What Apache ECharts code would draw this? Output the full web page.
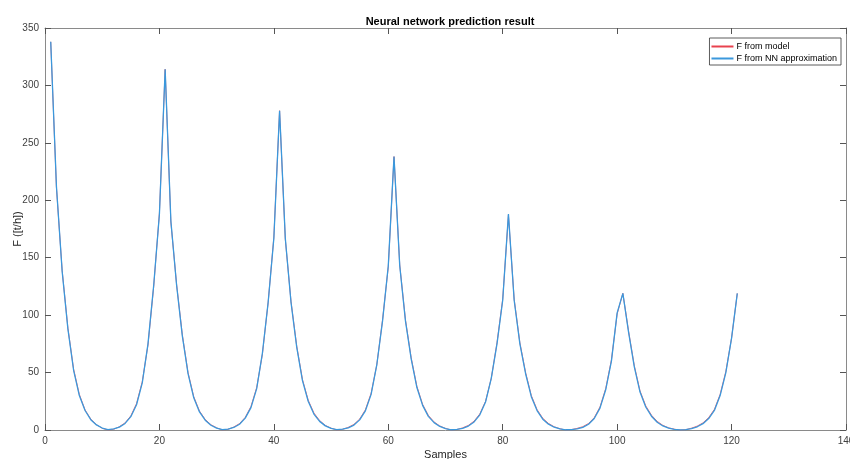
<!DOCTYPE html>
<html>
<head>
<meta charset="utf-8">
<script src="https://cdn.jsdelivr.net/npm/echarts@6/dist/echarts.min.js"></script>
<style>html,body{margin:0;padding:0;background:#fff;}#c{width:850px;height:459px;}</style>
</head>
<body>
<div id="c"></div>
<script>
var titleText = 'Neural network prediction result';
var xName = 'Samples';
var yName = 'F ([t/h])';
var seriesNames = ['F from model', 'F from NN approximation'];
var xTicks = [0, 20, 40, 60, 80, 100, 120, 140];
var yTicks = [0, 50, 100, 150, 200, 250, 300, 350];

var samples = [];
for (var i = 1; i <= 121; i++) samples.push(i);

var modelF = [
  338, 211, 139, 89, 53, 31, 17.5, 9.5, 4.6, 1.5, 0,
  0.6, 2.9, 6.2, 12.3, 23, 42, 74, 125, 189, 314,
  181, 127, 83, 50, 29, 16.5, 9.2, 4.6, 1.9, 0,
  0.6, 2.6, 5.6, 11, 20.5, 37, 66, 111, 168, 278,
  166, 112, 73, 44, 26, 14.8, 8.2, 4.0, 1.6, 0,
  0.5, 2.3, 4.9, 9.5, 17.6, 32, 57, 96, 142, 238,
  144, 96, 63, 38, 22.3, 12.7, 7.0, 3.5, 1.4, 0,
  0.4, 1.9, 4.0, 7.7, 14, 25, 45, 76, 114, 187,
  114, 76, 50, 30, 17.8, 10.2, 5.7, 2.8, 1.1, 0,
  0.3, 1.4, 2.9, 5.7, 10.8, 20, 36, 61, 101, 119,
  86, 56, 34, 21, 12.9, 7.5, 4.0, 1.9, 0.7, 0,
  0.3, 1.6, 3.4, 6.2, 10.8, 18, 31, 51, 80, 119
];

var nnF = [
  338, 212, 138, 88, 52, 30, 17, 9, 4.4, 1.7, 0.3,
  0.9, 2.5, 5.7, 11.6, 22, 41, 75, 126, 188, 314,
  182, 126, 82, 49, 28, 15.7, 8.5, 4.1, 1.6, 0.3,
  0.8, 2.2, 5.0, 10.3, 19.5, 36, 67, 111, 167, 278,
  167, 111, 72, 43, 25, 13.9, 7.5, 3.6, 1.4, 0.3,
  0.7, 1.9, 4.3, 8.8, 16.7, 31, 57, 95, 143, 238,
  143, 95, 62, 37, 21.4, 11.9, 6.4, 3.1, 1.2, 0.2,
  0.6, 1.5, 3.4, 7.0, 13.2, 24.4, 45, 75, 113, 188,
  113, 75, 49, 29, 16.9, 9.4, 5.1, 2.4, 0.9, 0.2,
  0.4, 1.0, 2.3, 5, 10, 19, 35, 60, 102, 119,
  85, 55, 33, 20, 12, 6.8, 3.5, 1.6, 0.6, 0.1,
  0.4, 1.2, 2.8, 5.5, 10, 17, 30, 50, 80, 119
];

function pairs(xs, ys) { return xs.map(function (x, k) { return [x, ys[k]]; }); }

var axisCol = '#8a8a8a';
var txtCol = '#404040';
var font = 'Liberation Sans, Arial, sans-serif';

function xAx(pos, show) {
  return {
    type: 'value', position: pos, min: xTicks[0], max: xTicks[xTicks.length - 1], interval: 20,
    name: show ? xName : '', nameLocation: 'middle', nameGap: 19, nameMoveOverlap: false,
    nameTextStyle: { color: '#262626', fontSize: 11, fontFamily: font },
    axisLine: { show: true, onZero: false, lineStyle: { color: axisCol, width: 1 } },
    axisTick: { show: true, inside: true, length: 6, lineStyle: { color: '#555' } },
    axisLabel: { show: show, color: txtCol, fontSize: 10, fontFamily: font, margin: 6 },
    splitLine: { show: false }
  };
}
function yAx(pos, show) {
  return {
    type: 'value', position: pos, min: yTicks[0], max: yTicks[yTicks.length - 1], interval: 50,
    name: show ? yName : '', nameLocation: 'middle', nameGap: 22, nameRotate: 90, nameMoveOverlap: false,
    nameTextStyle: { color: '#262626', fontSize: 11, fontFamily: font },
    axisLine: { show: true, onZero: false, lineStyle: { color: axisCol, width: 1 } },
    axisTick: { show: true, inside: true, length: 6, lineStyle: { color: '#555' } },
    axisLabel: { show: show, color: txtCol, fontSize: 10, fontFamily: font, margin: 6 },
    splitLine: { show: false }
  };
}

var chart = echarts.init(document.getElementById('c'), null, { renderer: 'canvas' });
chart.setOption({
  animation: false,
  backgroundColor: '#fff',
  title: {
    text: titleText, left: 445, top: 11, textAlign: 'center',
    textStyle: { fontSize: 11, fontWeight: 'bold', color: '#000', fontFamily: font }
  },
  legend: {
    orient: 'vertical', right: 9, top: 38,
    data: seriesNames,
    itemWidth: 22, itemHeight: 2, itemGap: 3,
    icon: 'rect',
    padding: [4, 4, 2, 2],
    borderColor: '#333', borderWidth: 0.8, backgroundColor: '#fff',
    textStyle: { fontSize: 9, color: '#000', fontFamily: font, padding: [0, 0, 0, -2] }
  },
  grid: { left: 45, right: 4, top: 28, bottom: 29, containLabel: false, outerBoundsMode: 'none' },
  xAxis: [xAx('bottom', true), xAx('top', false)],
  yAxis: [yAx('left', true), yAx('right', false)],
  series: [
    { name: seriesNames[0], type: 'line', data: pairs(samples, modelF), showSymbol: false, z: 2,
      color: '#e8424f', lineStyle: { width: 0.8, color: '#e8424f' } },
    { name: seriesNames[1], type: 'line', data: pairs(samples, nnF), showSymbol: false, z: 3,
      color: '#3b98dc', lineStyle: { width: 1.3, color: '#3b98dc' } }
  ]
});
</script>
</body>
</html>
